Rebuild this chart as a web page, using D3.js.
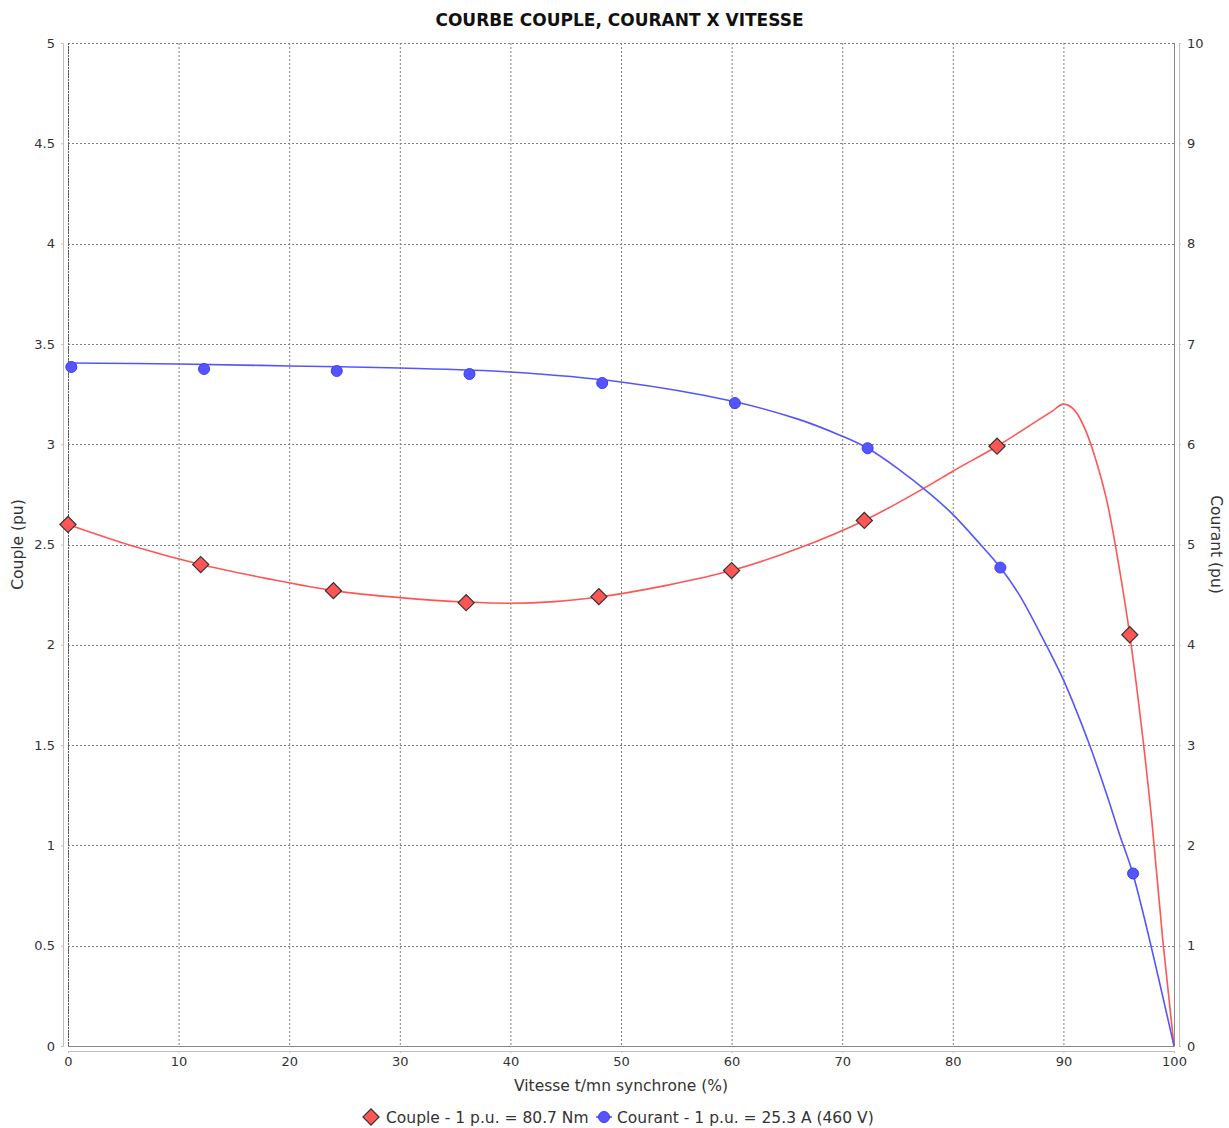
<!DOCTYPE html>
<html>
<head>
<meta charset="utf-8">
<script src="https://cdn.jsdelivr.net/npm/d3@7"></script>
<style>
  body { margin: 0; background: #fff; }
  text { font-family: "DejaVu Sans", sans-serif; }
</style>
</head>
<body>
<div id="chart"></div>
<script>
// values
const coupleMarkX = [0, 12, 24, 36, 48, 60, 72, 84, 96];
const coupleMarkY = [2.6, 2.4, 2.27, 2.21, 2.24, 2.37, 2.62, 2.99, 2.05];
const courantMarkX = [0.3, 12.3, 24.3, 36.3, 48.3, 60.3, 72.3, 84.3, 96.3];
const courantMarkY = [6.77, 6.75, 6.73, 6.70, 6.61, 6.41, 5.96, 4.77, 1.72];

const coupleLineX = [0, 6, 12, 18, 24, 30, 36, 40, 44, 48, 54, 60, 66, 72, 78, 80, 84, 88, 89, 90, 91, 92, 93, 94, 95, 96, 97, 98, 99, 100];
const coupleLineY = [2.6, 2.49, 2.40, 2.33, 2.27, 2.235, 2.213, 2.207, 2.215, 2.238, 2.295, 2.37, 2.48, 2.62, 2.80, 2.865, 2.99, 3.13, 3.165, 3.20, 3.17, 3.07, 2.91, 2.70, 2.40, 2.05, 1.62, 1.12, 0.52, 0];
const courantLineX = [0, 10, 20, 30, 40, 50, 60, 66, 70, 72.3, 75, 78, 80, 82.5, 84.3, 86, 88.2, 90, 92.3, 94, 95.1, 96.3, 100];
const courantLineY = [6.81, 6.80, 6.78, 6.76, 6.72, 6.62, 6.43, 6.25, 6.08, 5.96, 5.76, 5.50, 5.30, 5.0, 4.77, 4.50, 4.05, 3.65, 3.02, 2.48, 2.10, 1.71, 0];

const title = "COURBE COUPLE, COURANT X VITESSE";
const xLabel = "Vitesse t/mn synchrone (%)";
const yLabelLeft = "Couple (pu)";
const yLabelRight = "Courant (pu)";
const legendCouple = "Couple - 1 p.u. = 80.7 Nm";
const legendCourant = "Courant - 1 p.u. = 25.3 A (460 V)";

const W = 1229, H = 1128;
const margin = { top: 43, right: 55, bottom: 82, left: 68 };
const width = W - margin.left - margin.right,
    height = H - margin.top - margin.bottom;

const red = "#ff5555", blue = "#5555ff";

const svg = d3.select("#chart")
    .append("svg")
    .attr("width", W)
    .attr("height", H);

const x = d3.scaleLinear().domain([0, 100]).range([margin.left, margin.left + width]);
const yL = d3.scaleLinear().domain([0, 5]).range([margin.top + height, margin.top]);
const yR = d3.scaleLinear().domain([0, 10]).range([margin.top + height, margin.top]);

// title
svg.append("text")
    .attr("x", W / 2 + 5).attr("y", 26)
    .attr("text-anchor", "middle")
    .style("font-size", "17px").style("font-weight", "bold")
    .attr("fill", "#111")
    .text(title);

// plot background + grid
svg.append("rect")
    .attr("x", margin.left).attr("y", margin.top)
    .attr("width", width).attr("height", height)
    .attr("fill", "#fff");

const grid = svg.append("g")
    .attr("stroke", "#808080")
    .attr("stroke-width", 1)
    .attr("stroke-dasharray", "2,2");
grid.selectAll(".gx")
    .data(d3.range(0, 101, 10))
    .join("line")
    .attr("x1", d => x(d) + 0.5).attr("x2", d => x(d) + 0.5)
    .attr("y1", margin.top).attr("y2", margin.top + height);
grid.selectAll(".gy")
    .data(d3.range(0, 5.01, 0.5))
    .join("line")
    .attr("x1", margin.left).attr("x2", margin.left + width)
    .attr("y1", d => Math.round(yL(d)) + 0.5).attr("y2", d => Math.round(yL(d)) + 0.5);

// plot outline (right and bottom solid)
svg.append("path")
    .attr("d", `M${margin.left},${margin.top + height + 0.5}H${margin.left + width + 0.5}V${margin.top}`)
    .attr("fill", "none").attr("stroke", "#888");
svg.append("line")
    .attr("x1", margin.left + 0.5).attr("x2", margin.left + 0.5)
    .attr("y1", margin.top).attr("y2", margin.top + height)
    .attr("stroke", "#555").attr("stroke-dasharray", "2,1");

// axes
const fmt = d => String(d);
function styleAxis(g) {
    g.select(".domain").attr("stroke", "#c0c0c0");
    g.selectAll(".tick line").attr("stroke", "#c0c0c0");
    g.selectAll(".tick text").attr("fill", "#333").style("font-size", "13px");
}
svg.append("g")
    .attr("transform", `translate(${margin.left - 5},0)`)
    .call(d3.axisLeft(yL).tickValues(d3.range(0, 5.01, 0.5)).tickFormat(fmt).tickSize(2).tickSizeOuter(2).tickPadding(6))
    .call(styleAxis);
svg.append("g")
    .attr("transform", `translate(${margin.left + width + 5},0)`)
    .call(d3.axisRight(yR).tickValues(d3.range(0, 11, 1)).tickFormat(fmt).tickSize(2).tickSizeOuter(2).tickPadding(6))
    .call(styleAxis);
svg.append("g")
    .attr("transform", `translate(0,${margin.top + height + 5})`)
    .call(d3.axisBottom(x).tickValues(d3.range(0, 101, 10)).tickFormat(fmt).tickSize(2).tickSizeOuter(2).tickPadding(4))
    .call(styleAxis);

// axis labels
svg.append("text")
    .attr("transform", `translate(23,${margin.top + height / 2}) rotate(-90)`)
    .attr("text-anchor", "middle")
    .style("font-size", "15.5px").attr("fill", "#333")
    .text(yLabelLeft);
svg.append("text")
    .attr("transform", `translate(1211,${margin.top + height / 2}) rotate(90)`)
    .attr("text-anchor", "middle")
    .style("font-size", "15.5px").attr("fill", "#333")
    .text(yLabelRight);
svg.append("text")
    .attr("x", x(50)).attr("y", 1091)
    .attr("text-anchor", "middle")
    .style("font-size", "15.5px").attr("fill", "#333")
    .text(xLabel);

// lines
const coupleLine = coupleLineX.map((d, i) => [d, coupleLineY[i]]);
const courantLine = courantLineX.map((d, i) => [d, courantLineY[i]]);

svg.append("path")
    .datum(coupleLine)
    .attr("fill", "none").attr("stroke", red).attr("stroke-width", 1.6)
    .attr("d", d3.line().x(d => x(d[0])).y(d => yL(d[1])).curve(d3.curveMonotoneX));
svg.append("path")
    .datum(courantLine)
    .attr("fill", "none").attr("stroke", blue).attr("stroke-width", 1.6)
    .attr("d", d3.line().x(d => x(d[0])).y(d => yR(d[1])).curve(d3.curveCatmullRom.alpha(0.5)));

// markers
const diamond = d3.symbol().type(d3.symbolSquare).size(130);
svg.append("g")
    .selectAll("path")
    .data(coupleMarkX.map((d, i) => [d, coupleMarkY[i]]))
    .join("path")
    .attr("d", diamond)
    .attr("transform", d => `translate(${x(d[0])},${yL(d[1])}) rotate(45)`)
    .attr("fill", red).attr("stroke", "#333").attr("stroke-width", 1.2);

svg.append("g")
    .selectAll("circle")
    .data(courantMarkX.map((d, i) => [d, courantMarkY[i]]))
    .join("circle")
    .attr("cx", d => x(d[0])).attr("cy", d => yR(d[1]))
    .attr("r", 5.5)
    .attr("fill", blue).attr("stroke", "#3a3aff").attr("stroke-width", 1);

// legend
const lg = svg.append("g").attr("transform", "translate(0,1117)");
lg.append("path")
    .attr("d", diamond)
    .attr("transform", "translate(371,0) rotate(45)")
    .attr("fill", red).attr("stroke", "#333").attr("stroke-width", 1.2);
lg.append("text")
    .attr("x", 386).attr("y", 5.5)
    .style("font-size", "15.5px").attr("fill", "#333")
    .text(legendCouple);
lg.append("line")
    .attr("x1", 596).attr("x2", 612).attr("y1", 0).attr("y2", 0)
    .attr("stroke", blue).attr("stroke-width", 1.6);
lg.append("circle")
    .attr("cx", 604).attr("cy", 0).attr("r", 5.5)
    .attr("fill", blue).attr("stroke", "#3a3aff");
lg.append("text")
    .attr("x", 617).attr("y", 5.5)
    .style("font-size", "15.5px").attr("fill", "#333")
    .text(legendCourant);
</script>
</body>
</html>
